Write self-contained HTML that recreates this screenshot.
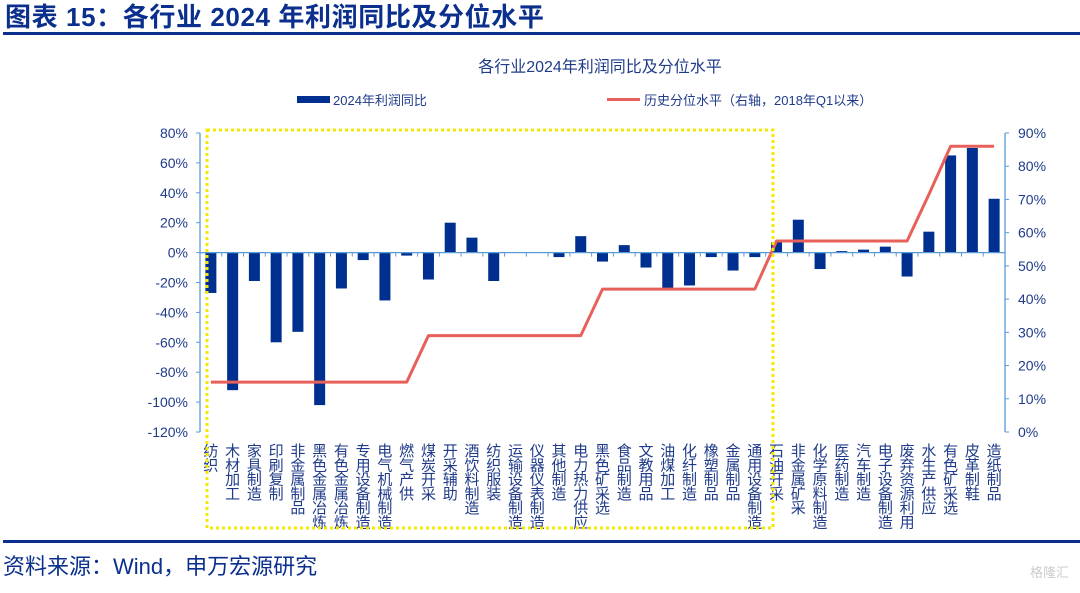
<!DOCTYPE html>
<html><head><meta charset="utf-8"><style>
body{margin:0;background:#fff;}
svg text{font-family:"Liberation Sans","Noto Sans CJK SC",sans-serif;}
</style></head><body>
<svg width="1080" height="588" viewBox="0 0 1080 588" xmlns="http://www.w3.org/2000/svg">
<text x="5" y="26" font-size="26" font-weight="bold" fill="#0a2f8c" letter-spacing="0.6">图表 15：各行业 2024 年利润同比及分位水平</text>
<rect x="3" y="32" width="1077" height="3" fill="#0a2f8c"/>
<text x="600" y="72" font-size="16" fill="#1f3b8a" text-anchor="middle">各行业2024年利润同比及分位水平</text>
<g>
<rect x="297" y="96" width="33" height="7" fill="#00308f"/>
<text x="333" y="105" font-size="13" fill="#1f3b8a">2024年利润同比</text>
<rect x="607" y="98" width="33" height="3" fill="#e8605a"/>
<text x="644" y="105" font-size="13" fill="#1f3b8a">历史分位水平（右轴，2018年Q1以来）</text>
</g>
<g id="plot"></g>
<rect x="207" y="130" width="566" height="398" fill="none" stroke="#f5e900" stroke-width="3" stroke-dasharray="3,3"/>
<rect x="3" y="540" width="1077" height="3" fill="#0a2f8c"/>
<text x="3" y="574" font-size="22" fill="#0a2f8c">资料来源：Wind，申万宏源研究</text>
<text x="1030" y="577" font-size="13" fill="#cccccc">格隆汇</text>
</svg>
<script>
const categories=["纺织","木材加工","家具制造","印刷复制","非金属制品","黑色金属冶炼","有色金属冶炼","专用设备制造","电气机械制造","燃气产供","煤炭开采","开采辅助","酒饮料制造","纺织服装","运输设备制造","仪器仪表制造","其他制造","电力热力供应","黑色矿采选","食品制造","文教用品","油煤加工","化纤制造","橡塑制品","金属制品","通用设备制造","石油开采","非金属矿采","化学原料制造","医药制造","汽车制造","电子设备制造","废弃资源利用","水生产供应","有色矿采选","皮革制鞋","造纸制品"];
const profitYoY=[-27,-92,-19,-60,-53,-102,-24,-5,-32,-2,-18,20,10,-19,0.3,0.2,-3,11,-6,5,-10,-24,-22,-3,-12,-3,7,22,-11,1,2,4,-16,14,65,70,36];
const percentile=[15,15,15,15,15,15,15,15,15,15,29,29,29,29,29,29,29,29,43,43,43,43,43,43,43,43,57.5,57.5,57.5,57.5,57.5,57.5,57.5,71.5,86,86,86];
const leftTicks=[80,60,40,20,0,-20,-40,-60,-80,-100,-120];
const rightTicks=[90,80,70,60,50,40,30,20,10,0];
const NS="http://www.w3.org/2000/svg";
const X0=200,X1=1005,YT=133,YB=432;
const yL=v=>YT+(80-v)/200*(YB-YT);
const yR=v=>YB-v/90*(YB-YT);
const step=(X1-X0)/categories.length;
const xc=i=>X0+step*(i+0.5);
const g=document.getElementById('plot');
function mk(t,a){const e=document.createElementNS(NS,t);for(const k in a)e.setAttribute(k,a[k]);g.appendChild(e);return e;}
let e=mk('line',{x1:X0,y1:YT,x2:X0,y2:YB,stroke:'#5b9bd5','stroke-width':1.3});


e=mk('line',{x1:X1,y1:YT,x2:X1,y2:YB,stroke:'#5b9bd5','stroke-width':1.3});


leftTicks.forEach(v=>{
 mk('line',{x1:X0-4,y1:yL(v),x2:X0,y2:yL(v),stroke:'#5b9bd5'});
 const t=mk('text',{x:X0-12,y:yL(v)+5,'font-size':14,fill:'#1f3b8a','text-anchor':'end'});
 t.textContent=v+'%';
 
 
});
rightTicks.forEach(v=>{
 mk('line',{x1:X1,y1:yR(v),x2:X1+4,y2:yR(v),stroke:'#5b9bd5'});
 const t=mk('text',{x:X1+13,y:yR(v)+5,'font-size':14,fill:'#1f3b8a'});
 t.textContent=v+'%';
 
 
});
profitYoY.forEach((v,i)=>{
 const y0=yL(0),y1=yL(v);
 const r=mk('rect',{x:xc(i)-5.5,y:Math.min(y0,y1),width:11,height:Math.max(Math.abs(y1-y0),0.6),fill:'#00308f'});
 
 
});
e=mk('line',{x1:X0,y1:yL(0),x2:X1,y2:yL(0),stroke:'#5b9bd5','stroke-width':1.3});


categories.forEach((c,i)=>{mk('line',{x1:X0+step*i,y1:yL(0),x2:X0+step*i,y2:yL(0)+4,stroke:'#5b9bd5'});});
const pl=mk('polyline',{points:percentile.map((v,i)=>xc(i)+','+yR(v)).join(' '),fill:'none',stroke:'#e8605a','stroke-width':3,'stroke-linejoin':'round'});


categories.forEach((c,i)=>{
 const t=mk('text',{x:xc(i),'font-size':15,fill:'#1f3b8a','text-anchor':'middle'});
 
 
 [...c].forEach((ch,k)=>{const s=document.createElementNS(NS,'tspan');s.setAttribute('x',xc(i));s.setAttribute('y',456+k*14.3);s.textContent=ch;t.appendChild(s);});
});
</script>
</body></html>
